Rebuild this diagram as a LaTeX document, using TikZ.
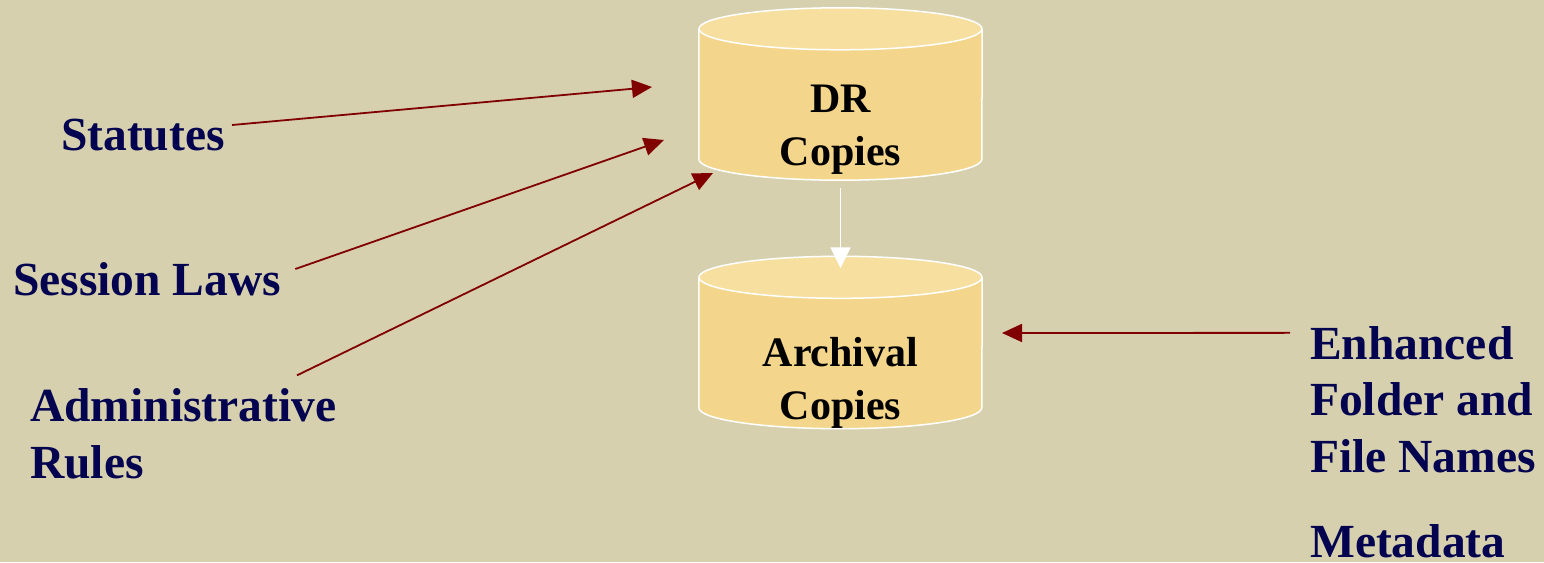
\documentclass[tikz,border=0pt]{standalone}
\usepackage{fontspec}
\setmainfont{Liberation Serif}
\usetikzlibrary{calc,arrows.meta}
\definecolor{bgc}{HTML}{D7D0AF}
\definecolor{bodyc}{HTML}{F3D68B}
\definecolor{topc}{HTML}{F7DFA0}
\definecolor{navy}{HTML}{03034F}
\definecolor{darkred}{HTML}{800000}
\newcommand\mycyl[1]{%
  \fill[bodyc] ($(#1.north west)+(0,21)$) rectangle ($(#1.south east)+(0,-21)$);
  \fill[bodyc] ($(#1.south)+(0,-21)$) ellipse [x radius=141.5, y radius=21];
  \draw[white, line width=1.5] ($(#1.north west)+(0,21)$) -- ($(#1.south west)+(0,-21)$)
     arc[start angle=180, end angle=0, x radius=141.5, y radius=21] -- ($(#1.north east)+(0,21)$);
  \filldraw[fill=topc, draw=white, line width=1.5] ($(#1.north)+(0,21)$) ellipse [x radius=141.5, y radius=21];
}
\tikzset{
  cylbox/.style={minimum width=283, minimum height=172, inner sep=0, draw=none},
  cyltext/.style={font=\fontsize{42}{52.5}\selectfont\bfseries, text=black, align=center, inner sep=0, anchor=base},
  lbl/.style={font=\fontsize{47.5}{56.5}\selectfont\bfseries, text=navy, align=left, inner sep=0, anchor=base west},
  redarrow/.style={draw=darkred, line width=1.8, -{Triangle[length=20, width=18]}},
  whitearrow/.style={draw=white, line width=1.5, -{Triangle[length=21, width=20]}}
}
\begin{document}
\begin{tikzpicture}[x=1pt, y=-1pt]
\fill[bgc] (0,0) rectangle (1544,562);
\useasboundingbox (0,0) rectangle (1544,562);
\node[cylbox] (dr) at (840.5,94) {};
\node[cylbox] (ar) at (840.5,342.5) {};
\mycyl{dr}
\mycyl{ar}
\node[cyltext] (drt) at (840.5,165) {DR\\Copies};
\node[cyltext] (art) at (840.5,419) {Archival\\Copies};
\node[lbl] (stat) at (61,150) {Statutes};
\node[lbl] (sess) at (13,295) {Session Laws};
\node[lbl] (admin) at (30,478) {Administrative\\Rules};
\node[lbl] (enh) at (1310,472) {Enhanced\\Folder and\\File Names};
\node[lbl] (meta) at (1310,557) {Metadata};
\coordinate (t1) at (652,87);
\coordinate (t2) at (664,140);
\coordinate (t3) at (713,173);
\coordinate (t4) at (1002,333);
\draw[redarrow] ($(stat.base east)+(7,-25)$) -- (t1);
\draw[redarrow] ($(sess.base east)+(14,-26)$) -- (t2);
\draw[redarrow] ($(admin.north west)+(267,-13)$) -- (t3);
\draw[redarrow] ($(enh.north west)+(-20,7)$) -- (t4);
\draw[whitearrow] ($(dr.south)+(0,8)$) -- ($(ar.north)+(0,12)$);
\end{tikzpicture}
\end{document}
